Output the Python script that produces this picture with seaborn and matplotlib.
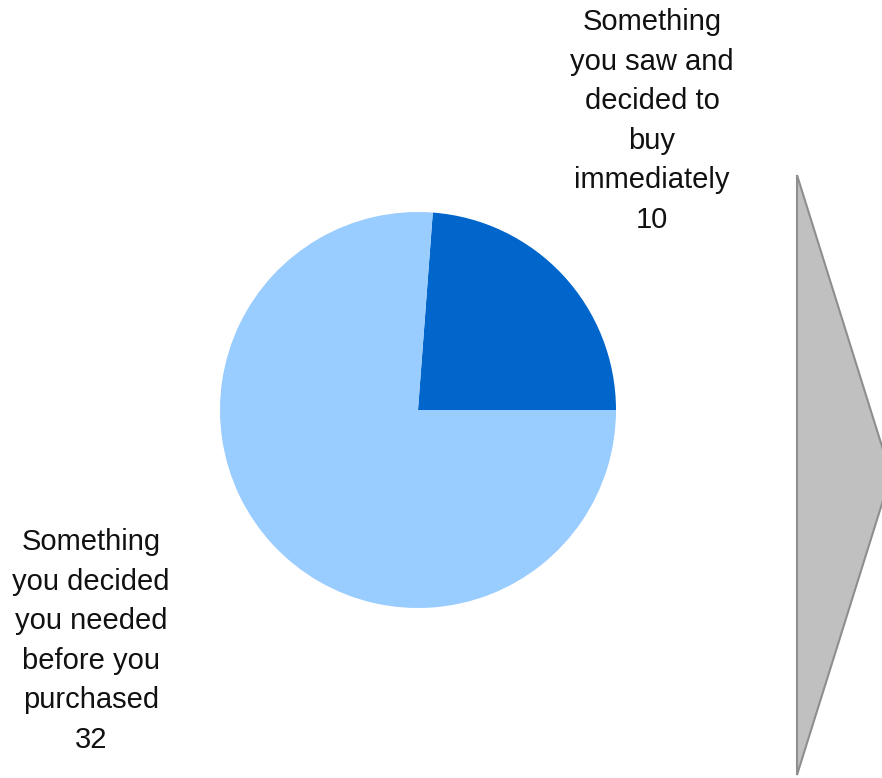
import matplotlib
matplotlib.use("Agg")
import matplotlib.pyplot as plt
from matplotlib.patches import Polygon
import seaborn as sns

# Purchase decision counts
categories = [
    "Something\nyou saw and\ndecided to\nbuy\nimmediately",
    "Something\nyou decided\nyou needed\nbefore you\npurchased",
]
counts = [10, 32]
colors = ["#0066CC", "#99CCFF"]

sns.set_theme(style="white")
plt.rcParams["font.family"] = ["Liberation Sans", "DejaVu Sans"]

W, H = 882, 778
fig = plt.figure(figsize=(W / 100, H / 100), dpi=100)
ax = fig.add_axes([0, 0, 1, 1])

cx, cy, r = 418, H - 410, 198
ax.pie(counts, colors=colors, startangle=0, counterclock=True,
       center=(cx, cy), radius=r, wedgeprops=dict(linewidth=0))

# Slice labels with their counts
label_pos = [(652, H - 121), (91, H - 641)]
for name, n, (x, y) in zip(categories, counts, label_pos):
    ax.text(x, y, f"{name}\n{n}", ha="center", va="center",
            fontsize=21, linespacing=1.53, color="#111111")

# Grey arrow head on the right
arrow = Polygon([(797, H - 175), (797, H - 775), (891, H - 475)],
                closed=True, facecolor="#C0C0C0", edgecolor="#8E8E8E",
                linewidth=1.5, clip_on=False)
ax.add_patch(arrow)

ax.set_xlim(0, W)
ax.set_ylim(0, H)
ax.set_aspect("equal")
ax.axis("off")

fig.savefig("out.png", dpi=100, facecolor="white")
